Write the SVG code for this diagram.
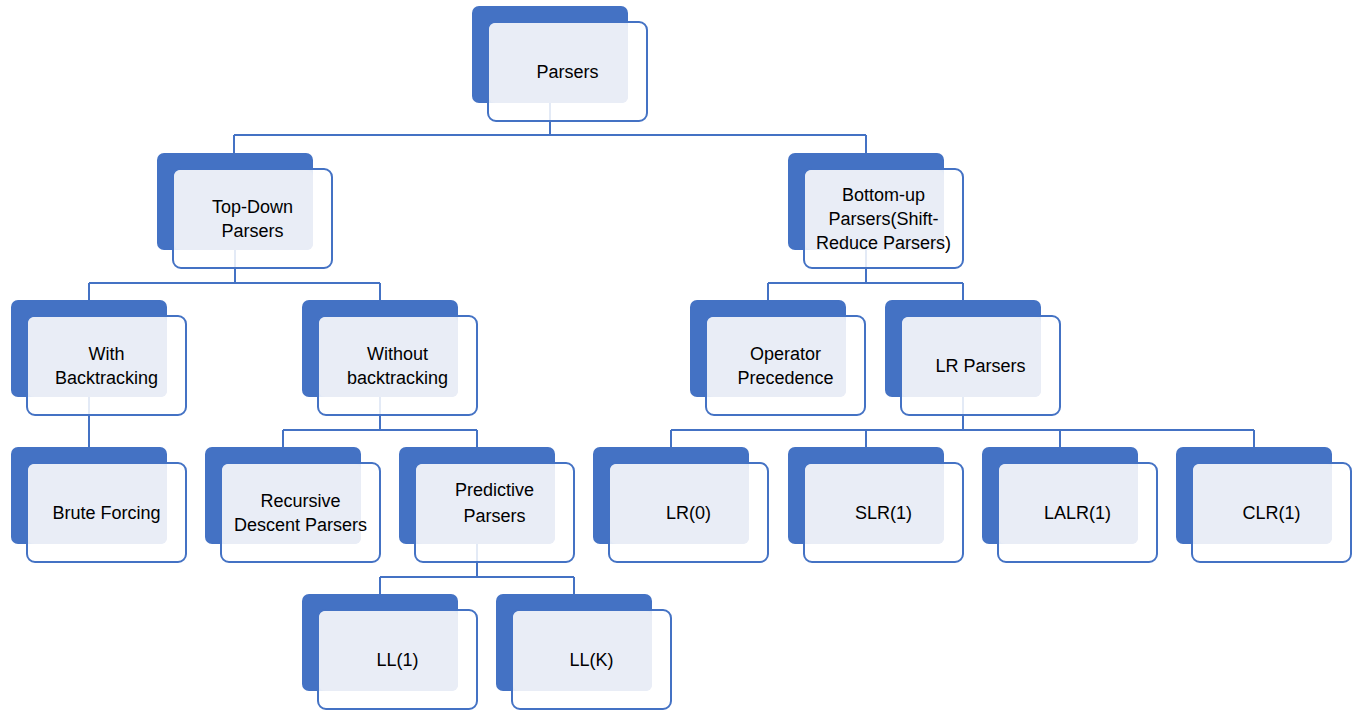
<svg xmlns="http://www.w3.org/2000/svg" width="1353" height="710" viewBox="0 0 1353 710">
<style>
.back{fill:#4472C4}
.front{fill:#FFFFFF;fill-opacity:0.85;stroke:#4472C4;stroke-width:2}
.light{fill:#E9EDF6}
.conn{fill:none;stroke:#4472C4;stroke-width:2}
text{font-family:"Liberation Sans",Arial,sans-serif;font-size:18px;fill:#000;text-anchor:middle}
</style>
<rect width="1353" height="710" fill="#FFFFFF"/>
<g id="connectors" class="conn">
<path d="M550 103 V135 M234 135 H866 M234 135 V153 M866 135 V153"/>
<path d="M235 250 V283 M89 283 H380 M89 283 V300 M380 283 V300"/>
<path d="M866 250 V283 M768 283 H963 M768 283 V300 M963 283 V300"/>
<path d="M89 397 V447"/>
<path d="M380 397 V430 M283 430 H477 M283 430 V447 M477 430 V447"/>
<path d="M963 397 V430 M671 430 H1254 M671 430 V447 M866 430 V447 M1060 430 V447 M1254 430 V447"/>
<path d="M477 544 V577 M380 577 H574 M380 577 V594 M574 577 V594"/>
</g>
<g id="parsers" transform="translate(472,6)"><rect class="back" width="156" height="97" rx="7"/><rect class="front" x="16" y="16" width="159" height="99" rx="8"/><rect class="light" x="17" y="17" width="139" height="80" rx="6"/><text x="95.5" y="72">Parsers</text></g>
<g id="topdown" transform="translate(157,153)"><rect class="back" width="156" height="97" rx="7"/><rect class="front" x="16" y="16" width="159" height="99" rx="8"/><rect class="light" x="17" y="17" width="139" height="80" rx="6"/><text x="95.5" y="60">Top-Down</text><text x="95.5" y="84">Parsers</text></g>
<g id="bottomup" transform="translate(788,153)"><rect class="back" width="156" height="97" rx="7"/><rect class="front" x="16" y="16" width="159" height="99" rx="8"/><rect class="light" x="17" y="17" width="139" height="80" rx="6"/><text x="95.5" y="48">Bottom-up</text><text x="95.5" y="72">Parsers(Shift-</text><text x="95.5" y="96">Reduce Parsers)</text></g>
<g id="withbt" transform="translate(11,300)"><rect class="back" width="156" height="97" rx="7"/><rect class="front" x="16" y="16" width="159" height="99" rx="8"/><rect class="light" x="17" y="17" width="139" height="80" rx="6"/><text x="95.5" y="60">With</text><text x="95.5" y="84">Backtracking</text></g>
<g id="withoutbt" transform="translate(302,300)"><rect class="back" width="156" height="97" rx="7"/><rect class="front" x="16" y="16" width="159" height="99" rx="8"/><rect class="light" x="17" y="17" width="139" height="80" rx="6"/><text x="95.5" y="60">Without</text><text x="95.5" y="84">backtracking</text></g>
<g id="opprec" transform="translate(690,300)"><rect class="back" width="156" height="97" rx="7"/><rect class="front" x="16" y="16" width="159" height="99" rx="8"/><rect class="light" x="17" y="17" width="139" height="80" rx="6"/><text x="95.5" y="60">Operator</text><text x="95.5" y="84">Precedence</text></g>
<g id="lrparsers" transform="translate(885,300)"><rect class="back" width="156" height="97" rx="7"/><rect class="front" x="16" y="16" width="159" height="99" rx="8"/><rect class="light" x="17" y="17" width="139" height="80" rx="6"/><text x="95.5" y="72">LR Parsers</text></g>
<g id="brute" transform="translate(11,447)"><rect class="back" width="156" height="97" rx="7"/><rect class="front" x="16" y="16" width="159" height="99" rx="8"/><rect class="light" x="17" y="17" width="139" height="80" rx="6"/><text x="95.5" y="72">Brute Forcing</text></g>
<g id="recursive" transform="translate(205,447)"><rect class="back" width="156" height="97" rx="7"/><rect class="front" x="16" y="16" width="159" height="99" rx="8"/><rect class="light" x="17" y="17" width="139" height="80" rx="6"/><text x="95.5" y="60">Recursive</text><text x="95.5" y="84">Descent Parsers</text></g>
<g id="predictive" transform="translate(399,447)"><rect class="back" width="156" height="97" rx="7"/><rect class="front" x="16" y="16" width="159" height="99" rx="8"/><rect class="light" x="17" y="17" width="139" height="80" rx="6"/><text x="95.5" y="49">Predictive</text><text x="95.5" y="75">Parsers</text></g>
<g id="lr0" transform="translate(593,447)"><rect class="back" width="156" height="97" rx="7"/><rect class="front" x="16" y="16" width="159" height="99" rx="8"/><rect class="light" x="17" y="17" width="139" height="80" rx="6"/><text x="95.5" y="72">LR(0)</text></g>
<g id="slr1" transform="translate(788,447)"><rect class="back" width="156" height="97" rx="7"/><rect class="front" x="16" y="16" width="159" height="99" rx="8"/><rect class="light" x="17" y="17" width="139" height="80" rx="6"/><text x="95.5" y="72">SLR(1)</text></g>
<g id="lalr1" transform="translate(982,447)"><rect class="back" width="156" height="97" rx="7"/><rect class="front" x="16" y="16" width="159" height="99" rx="8"/><rect class="light" x="17" y="17" width="139" height="80" rx="6"/><text x="95.5" y="72">LALR(1)</text></g>
<g id="clr1" transform="translate(1176,447)"><rect class="back" width="156" height="97" rx="7"/><rect class="front" x="16" y="16" width="159" height="99" rx="8"/><rect class="light" x="17" y="17" width="139" height="80" rx="6"/><text x="95.5" y="72">CLR(1)</text></g>
<g id="ll1" transform="translate(302,594)"><rect class="back" width="156" height="97" rx="7"/><rect class="front" x="16" y="16" width="159" height="99" rx="8"/><rect class="light" x="17" y="17" width="139" height="80" rx="6"/><text x="95.5" y="72">LL(1)</text></g>
<g id="llk" transform="translate(496,594)"><rect class="back" width="156" height="97" rx="7"/><rect class="front" x="16" y="16" width="159" height="99" rx="8"/><rect class="light" x="17" y="17" width="139" height="80" rx="6"/><text x="95.5" y="72">LL(K)</text></g>
</svg>
